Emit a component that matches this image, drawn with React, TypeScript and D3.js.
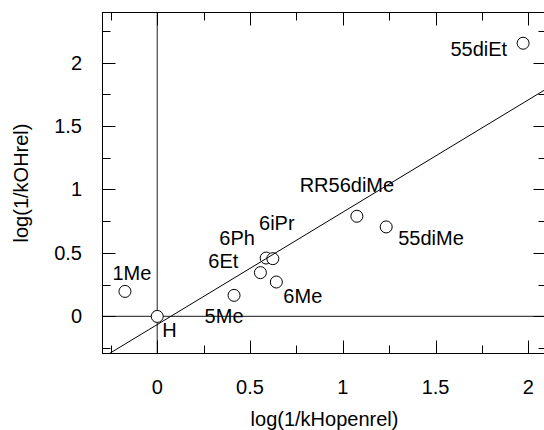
import React, { useEffect, useRef } from "react";
import * as d3 from "d3";

// compounds
const names = ["1Me", "H", "5Me", "6Et", "6Ph", "6iPr", "6Me", "RR56diMe", "55diMe", "55diEt"];
const xValues = [-0.174, 0, 0.414, 0.556, 0.587, 0.623, 0.642, 1.076, 1.234, 1.972];
const yValues = [0.197, 0, 0.166, 0.345, 0.46, 0.455, 0.271, 0.789, 0.705, 2.152];

// fitted line y = a + b*x
const fitIntercept = -0.064;
const fitSlope = 0.885;

const xMajor = [0, 0.5, 1, 1.5, 2];
const xMinor = [-0.25, 0.25, 0.75, 1.25, 1.75];
const yMajor = [0, 0.5, 1, 1.5, 2];
const yMinor = [-0.25, 0.25, 0.75, 1.25, 1.75, 2.25];

const xTitle = "log(1/kHopenrel)";
const yTitle = "log(1/kOHrel)";

// where each label sits relative to its point: [anchor, dx, dy]
const labelPlace: [string, number, number][] = [
  ["middle", 7, -11],
  ["start", 5, 21],
  ["middle", -10, 28],
  ["end", -22, -5],
  ["middle", -29, -13],
  ["middle", 4, -29],
  ["start", 7, 21],
  ["middle", -10, -24],
  ["start", 12, 18],
  ["end", -16, 13]
];

const W = 544;
const H = 430;
const FONT = "'Liberation Sans', Arial, Helvetica, sans-serif";

export default function App() {
  const ref = useRef<SVGSVGElement>(null);

  useEffect(() => {
    const svg = d3.select(ref.current);
    svg.html("");

    const left = 102.5, right = 546.5, top = 12.5, bottom = 353.5;
    const x = d3.scaleLinear().domain([-0.295, 2.098]).range([left, right]);
    const y = d3.scaleLinear().domain([-0.292, 2.394]).range([bottom, top]);

    const g = svg.append("g");

    // reference lines at 0
    g.append("line")
      .attr("x1", x(0)).attr("x2", x(0))
      .attr("y1", top).attr("y2", bottom)
      .attr("stroke", "#444").attr("stroke-width", 1.2);
    g.append("line")
      .attr("x1", left).attr("x2", right)
      .attr("y1", y(0)).attr("y2", y(0))
      .attr("stroke", "#444").attr("stroke-width", 1.2);

    // points
    g.selectAll("circle").data(names).enter().append("circle")
      .attr("cx", (d, i) => x(xValues[i]))
      .attr("cy", (d, i) => y(yValues[i]))
      .attr("r", 6)
      .attr("fill", "#fff")
      .attr("stroke", "#000");

    // fit line, clipped to the frame
    const x0 = (y.invert(bottom) - fitIntercept) / fitSlope;
    const x1 = x.invert(right);
    svg.append("clipPath").attr("id", "plotclip")
      .append("rect")
      .attr("x", left).attr("y", top)
      .attr("width", right - left).attr("height", bottom - top);
    g.append("line")
      .attr("clip-path", "url(#plotclip)")
      .attr("x1", x(x0)).attr("y1", y(fitIntercept + fitSlope * x0))
      .attr("x2", x(x1)).attr("y2", y(fitIntercept + fitSlope * x1))
      .attr("stroke", "#000").attr("stroke-width", 1);

    // frame
    g.append("rect")
      .attr("x", left).attr("y", top)
      .attr("width", right - left).attr("height", bottom - top)
      .attr("fill", "none").attr("stroke", "#000");

    // inward ticks on all sides
    const tick = (vals: number[], len: number) => {
      vals.forEach(v => {
        const px = Math.round(x(v)) + 0.5;
        g.append("line").attr("x1", px).attr("x2", px)
          .attr("y1", bottom).attr("y2", bottom - len).attr("stroke", "#000");
        g.append("line").attr("x1", px).attr("x2", px)
          .attr("y1", top).attr("y2", top + len).attr("stroke", "#000");
      });
    };
    const ytick = (vals: number[], len: number) => {
      vals.forEach(v => {
        const py = Math.round(y(v)) + 0.5;
        g.append("line").attr("x1", left).attr("x2", left + len)
          .attr("y1", py).attr("y2", py).attr("stroke", "#000");
        g.append("line").attr("x1", right).attr("x2", right - len)
          .attr("y1", py).attr("y2", py).attr("stroke", "#000");
      });
    };
    tick(xMajor, 13);
    tick(xMinor, 8);
    ytick(yMajor, 13);
    ytick(yMinor, 8);

    // tick labels
    g.selectAll("text.xl").data(xMajor).enter().append("text")
      .attr("x", d => x(d)).attr("y", 394)
      .attr("text-anchor", "middle")
      .text(d => d3.format("~g")(d));
    g.selectAll("text.yl").data(yMajor).enter().append("text")
      .attr("x", 82).attr("y", d => y(d)).attr("dy", "0.35em")
      .attr("text-anchor", "end")
      .text(d => d3.format("~g")(d));

    // axis titles
    g.append("text")
      .attr("x", (left + right) / 2).attr("y", 426)
      .attr("text-anchor", "middle")
      .text(xTitle);
    g.append("text")
      .attr("transform", `translate(28,${(top + bottom) / 2}) rotate(-90)`)
      .attr("text-anchor", "middle")
      .text(yTitle);

    // point labels
    g.selectAll("text.pl").data(names).enter().append("text")
      .attr("x", (d, i) => x(xValues[i]) + labelPlace[i][1])
      .attr("y", (d, i) => y(yValues[i]) + labelPlace[i][2])
      .attr("text-anchor", (d, i) => labelPlace[i][0])
      .text(d => d);

    g.selectAll("text").attr("font-family", FONT).attr("font-size", 20).attr("fill", "#000");
  }, []);

  return (
    <div style={{ position: "fixed", left: 0, top: 0 }}>
      <svg ref={ref} width={W} height={H} style={{ display: "block", background: "#fff" }} />
    </div>
  );
}
